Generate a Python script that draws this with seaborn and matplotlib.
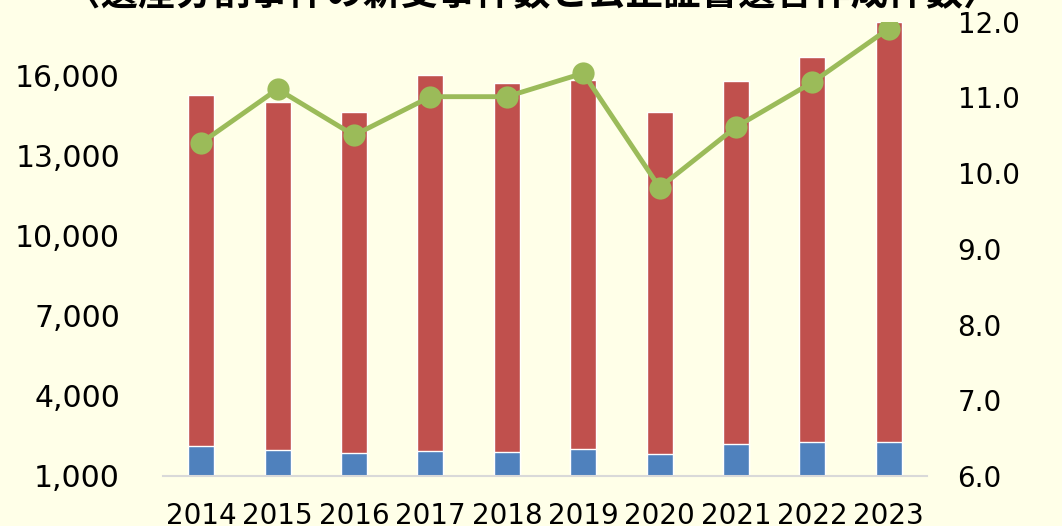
import matplotlib
matplotlib.use("Agg")
import matplotlib.pyplot as plt
import seaborn as sns
import numpy as np
import pandas as pd

# データ
years = ["2014", "2015", "2016", "2017", "2018", "2019", "2020", "2021", "2022", "2023"]
total_cases = [15240, 14980, 14640, 16010, 15700, 15810, 14620, 15800, 16670, 17980]  # 遺産分割事件 新受(合計)
blue_cases = [2120, 1970, 1850, 1930, 1910, 2000, 1810, 2210, 2290, 2290]  # 下段(青)
will_count = [10.40, 11.11, 10.50, 11.01, 11.01, 11.32, 9.81, 10.61, 11.20, 11.91]  # 公正証書遺言(万件)
left_ticks = [1000, 4000, 7000, 10000, 13000, 16000]
right_ticks = [6.0, 7.0, 8.0, 9.0, 10.0, 11.0, 12.0]
title = "〈遺産分割事件の新受事件数と公正証書遺言作成件数〉"

bg = "#FFFFE8"
red = "#C0504D"
blue = "#4F81BD"
green = "#9BBB59"

sns.set_style("white")
plt.rcParams["font.family"] = ["DejaVu Sans", "Noto Sans CJK JP"]

df = pd.DataFrame({"year": years, "total": total_cases, "blue": blue_cases, "will": will_count})

fig = plt.figure(figsize=(10.62, 5.26), dpi=100, facecolor=bg)
ax = fig.add_axes([0.1535, 0.0951, 0.7194, 0.8636])
ax.set_facecolor(bg)

sns.barplot(data=df, x="year", y="total", color=red, width=0.34, saturation=1, ax=ax)
sns.barplot(data=df, x="year", y="blue", color=blue, width=0.34, saturation=1, ax=ax)

ax.set_ylim(1000, 18000)
ax.set_xlim(-0.5, len(years) - 0.5)
ax.set_yticks(left_ticks)
ax.set_yticklabels([f"{v:,}" for v in left_ticks])
ax.set_xlabel("")
ax.set_ylabel("")
ax.tick_params(axis="y", length=0, pad=31, labelsize=21.5, labelcolor="black")
ax.tick_params(axis="x", length=0, pad=19, labelsize=20, labelcolor="black")
for s in ["top", "left", "right"]:
    ax.spines[s].set_visible(False)
ax.spines["bottom"].set_color("#D9D9D9")
ax.spines["bottom"].set_linewidth(1.5)

# 右軸(折れ線)
ax2 = ax.twinx()
sns.lineplot(x=np.arange(len(years)), y=will_count, color=green, linewidth=3.5,
             marker="o", markersize=16, markeredgewidth=0, ax=ax2)
ax2.set_ylim(6.0, 12.0)
ax2.set_yticks(right_ticks)
ax2.set_yticklabels([f"{v:.1f}" for v in right_ticks])
ax2.tick_params(axis="y", length=0, pad=22, labelsize=20, labelcolor="black")
for s in ["top", "left", "right", "bottom"]:
    ax2.spines[s].set_visible(False)

fig.text(0.501, 1 - 13 / 526, title, ha="center", va="bottom", fontsize=27,
         fontweight="bold", color="black", family=["Noto Sans CJK JP", "DejaVu Sans"])

fig.savefig("out.png", dpi=100, facecolor=bg)
